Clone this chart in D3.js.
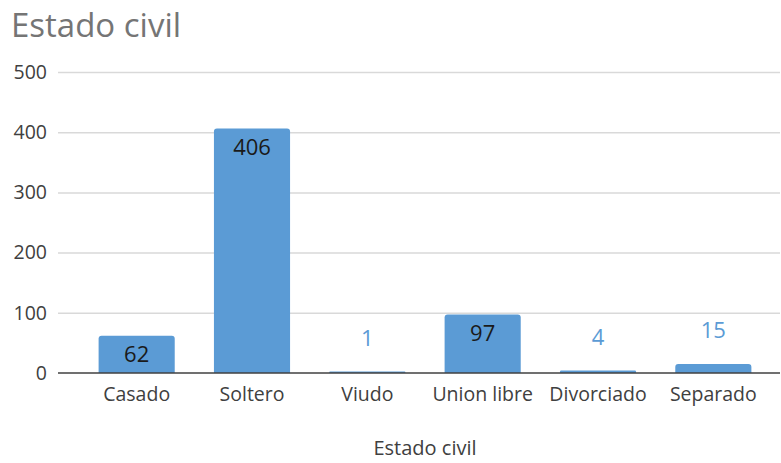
<!DOCTYPE html>
<html>
<head>
<meta charset="utf-8">
<style>
  body { margin: 0; background: #fff; font-family: "Open Sans", "Noto Sans", sans-serif; }
</style>
<script src="https://cdn.jsdelivr.net/npm/d3@7"></script>
</head>
<body>
<script>
var categories = ["Casado", "Soltero", "Viudo", "Union libre", "Divorciado", "Separado"];
var values = [62, 406, 1, 97, 4, 15];
var yTicks = [0, 100, 200, 300, 400, 500];

var W = 781, H = 463;
var svg = d3.select("body").append("svg")
  .attr("width", W).attr("height", H);

var x = d3.scaleBand()
  .domain(categories)
  .range([79, 771])
  .paddingInner(0.34)
  .paddingOuter(0.17);

var y = d3.scaleLinear()
  .domain([0, 500])
  .range([373, 72]);

// title
svg.append("text")
  .attr("x", 11).attr("y", 37)
  .attr("font-size", 33)
  .attr("fill", "#757575")
  .text("Estado civil");

// gridlines
svg.append("g").selectAll("line")
  .data(yTicks.filter(function(d) { return d > 0; }))
  .enter().append("line")
  .attr("x1", 58).attr("x2", 780)
  .attr("y1", function(d) { return y(d) + 0.5; })
  .attr("y2", function(d) { return y(d) + 0.5; })
  .attr("stroke", "#d9d9d9").attr("stroke-width", 1.5);

// y axis labels
var yAxis = d3.axisLeft(y).tickValues(yTicks).tickSize(0).tickPadding(0);
var gy = svg.append("g").attr("transform", "translate(47,0)").call(yAxis);
gy.select(".domain").remove();
gy.selectAll("text")
  .attr("font-size", 19.5).attr("font-family", "Open Sans, Noto Sans, sans-serif")
  .attr("fill", "#404040");

// bars
svg.append("g").selectAll("path")
  .data(values)
  .enter().append("path")
  .attr("fill", "#5b9bd5")
  .attr("d", function(d, i) {
    var x0 = x(categories[i]), w = x.bandwidth();
    var top = Math.min(y(d), y(0) - 1.5), bot = y(0);
    var r = Math.min(3, (bot - top) / 2);
    return "M" + x0 + "," + bot +
      "V" + (top + r) + "Q" + x0 + "," + top + " " + (x0 + r) + "," + top +
      "H" + (x0 + w - r) + "Q" + (x0 + w) + "," + top + " " + (x0 + w) + "," + (top + r) +
      "V" + bot + "Z";
  });

// x axis
var xAxis = d3.axisBottom(x).tickSize(0).tickPadding(14);
var gx = svg.append("g").attr("transform", "translate(0," + y(0) + ")").call(xAxis);
gx.select(".domain").remove();
gx.selectAll("text")
  .attr("font-size", 19.5).attr("font-family", "Open Sans, Noto Sans, sans-serif")
  .attr("fill", "#404040");
svg.append("line")
  .attr("x1", 58).attr("x2", 780)
  .attr("y1", y(0)).attr("y2", y(0))
  .attr("stroke", "#404040").attr("stroke-width", 1.5);

// value labels
svg.append("g").selectAll("text")
  .data(values)
  .enter().append("text")
  .attr("text-anchor", "middle")
  .attr("font-size", 22)
  .attr("x", function(d, i) { return x(categories[i]) + x.bandwidth() / 2; })
  .attr("y", function(d) { return d > 50 ? y(d) + 26 : y(d) - 26; })
  .attr("fill", function(d) { return d > 50 ? "#1a1a1a" : "#5b9bd5"; })
  .text(function(d) { return d; });

// x axis title
svg.append("text")
  .attr("x", 425).attr("y", 455)
  .attr("text-anchor", "middle")
  .attr("font-size", 20)
  .attr("fill", "#404040")
  .text("Estado civil");
</script>
</body>
</html>
